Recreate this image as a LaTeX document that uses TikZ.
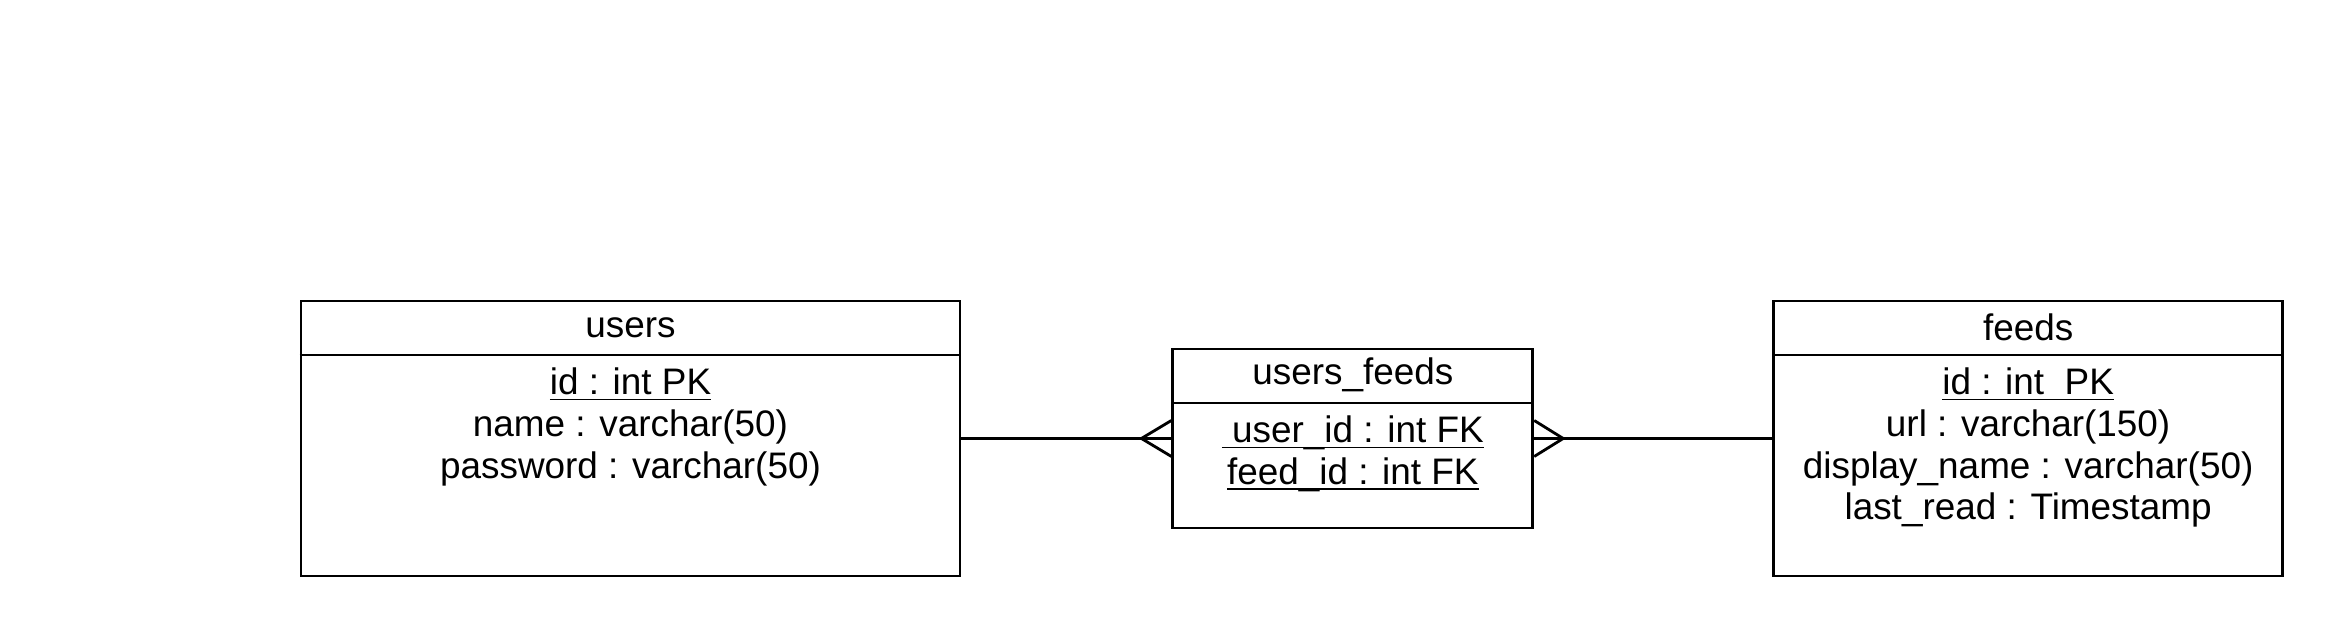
\documentclass[tikz,border=0pt]{standalone}
\usepackage{fontspec}
\setmainfont{Liberation Sans}
\usetikzlibrary{positioning}

% underline that ignores the depth of underscores
\newcommand{\key}[1]{\underline{\raisebox{0pt}[\height][0pt]{#1}}}

\newcommand{\entity}[6]{
    \node(#1)[
        draw,
        line width=0.8pt,
        minimum width=#3,
        minimum height=#4,
        inner sep=0pt,
        #2
    ]{};
    \node(#1 title)[
        below=0pt of #1.north,
        minimum height=0.54cm,
        inner sep=0pt
    ]{#5};
    \draw[line width=0.8pt] (#1 title.south -| #1.west) -- (#1 title.south -| #1.east);
    \node(#1 attrs)[
        below=0.12cm of #1 title,
        inner sep=0pt,
        align=center
    ]{#6};
}
\newcommand{\crowsfoot}[2]{
    \draw[line width=0.8pt] ([yshift=0.18cm]#1) -- ([xshift=#2]#1) -- ([yshift=-0.18cm]#1);
}

\begin{document}
\begin{tikzpicture}[font=\fontsize{10.5}{11.9}\selectfont]
	\useasboundingbox (0,0) rectangle (23.46,6.36);

	\entity{users}{at={(6.305,1.975)}}{6.59cm}{2.75cm}{users}{\key{id : int PK}\\name : varchar(50)\\password : varchar(50)}

	\entity{users feeds}{right=2.1cm of users}{3.6cm}{1.79cm}{users\_feeds}{\key{\ user\_id : int FK}\\\key{feed\_id : int FK}}

	\entity{feeds}{right=2.38cm of users feeds}{5.09cm}{2.75cm}{feeds}{\key{id : int\ \ PK}\\url : varchar(150)\\display\_name : varchar(50)\\last\_read : Timestamp}

	% many-to-many links
	\draw[line width=0.8pt] (users) -- (users feeds);
	\draw[line width=0.8pt] (users feeds) -- (feeds);
	\crowsfoot{users feeds.west}{-0.3cm}
	\crowsfoot{users feeds.east}{0.29cm}
\end{tikzpicture}
\end{document}
